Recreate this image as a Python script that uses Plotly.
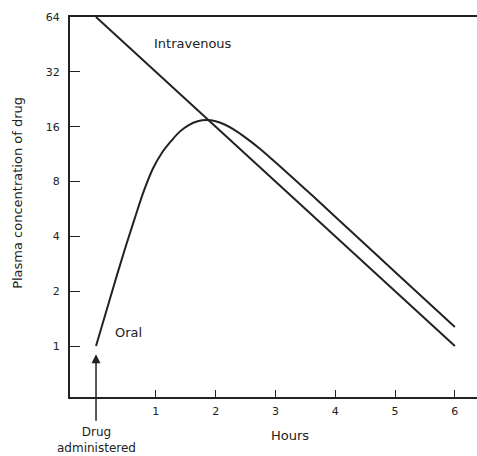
import plotly.graph_objects as go
import math

# Data
iv_hours = [0, 1, 2, 3, 4, 5, 6]
iv_conc = [64, 32, 16, 8, 4, 2, 1]

oral_hours = [0, 0.2, 0.35, 0.5, 0.65, 0.8, 0.95, 1.1, 1.25, 1.4, 1.55, 1.7, 1.85,
              2.0, 2.15, 2.3, 2.5, 2.75, 3.0, 3.5, 4.0, 5.0, 6.0]
oral_conc = [1.0, 1.67, 2.45, 3.55, 5.05, 7.1, 9.4, 11.47, 13.27, 15.03, 16.34, 17.15, 17.39,
             17.15, 16.45, 15.45, 13.93, 12.04, 10.2, 7.26, 5.13, 2.55, 1.27]

x_ticks = [1, 2, 3, 4, 5, 6]
y_ticks = [1, 2, 4, 8, 16, 32, 64]

FONT = "DejaVu Sans"
INK = "#222222"

fig = go.Figure()
fig.add_trace(go.Scatter(x=iv_hours, y=iv_conc, mode="lines",
                         line=dict(color=INK, width=2), name="Intravenous",
                         hoverinfo="skip"))
fig.add_trace(go.Scatter(x=oral_hours, y=oral_conc, mode="lines",
                         line=dict(color=INK, width=2, shape="spline", smoothing=1.0),
                         name="Oral", hoverinfo="skip"))

fig.update_layout(
    width=477, height=456,
    margin=dict(l=70, r=0, t=17, b=59),
    paper_bgcolor="white", plot_bgcolor="white",
    showlegend=False,
    font=dict(family=FONT, size=11, color=INK),
    xaxis=dict(range=[-0.435, 6.37], showline=True, linecolor=INK, linewidth=2,
               mirror=True, showgrid=False, zeroline=False,
               tickvals=x_ticks, ticktext=[str(v) for v in x_ticks],
               ticks="inside", ticklen=7, tickwidth=1, tickcolor=INK,
               ticklabelstandoff=3,
               tickfont=dict(size=11, family=FONT, color=INK)),
    yaxis=dict(type="log", range=[math.log10(0.525), math.log10(64)],
               showline=True, linecolor=INK, linewidth=2, mirror=False,
               showgrid=False, zeroline=False,
               tickvals=y_ticks, ticktext=[str(v) for v in y_ticks],
               ticks="inside", ticklen=10, tickwidth=1, tickcolor=INK,
               ticklabelstandoff=6,
               tickfont=dict(size=11, family=FONT, color=INK)),
)

ann = [
    dict(x=1.62, y=math.log10(46), xref="x", yref="y", text="Intravenous",
         showarrow=False, xanchor="center", yanchor="middle",
         font=dict(size=13, family=FONT, color=INK)),
    dict(x=0.54, y=math.log10(1.18), xref="x", yref="y", text="Oral",
         showarrow=False, xanchor="center", yanchor="middle",
         font=dict(size=13, family=FONT, color=INK)),
    dict(x=0, y=math.log10(0.9), xref="x", yref="y", text="", showarrow=True,
         ax=0, ay=68, axref="pixel", ayref="pixel",
         arrowhead=2, arrowsize=1.2, arrowwidth=1.5, arrowcolor=INK),
    dict(x=0, y=-0.071, xref="x", yref="paper", text="Drug<br>administered",
         showarrow=False, xanchor="center", yanchor="top", align="center",
         borderpad=0, font=dict(size=12, family=FONT, color=INK)),
    dict(x=3.24, y=-0.1, xref="x", yref="paper", text="Hours",
         showarrow=False, xanchor="center", yanchor="middle",
         font=dict(size=13, family=FONT, color=INK)),
    dict(x=-0.128, y=0.537, xref="paper", yref="paper", text="Plasma concentration of drug",
         showarrow=False, textangle=-90, xanchor="center", yanchor="middle",
         font=dict(size=13, family=FONT, color=INK)),
]
fig.update_layout(annotations=ann)

fig.write_html("out.html", config={"displayModeBar": False},
               post_script="document.body.style.margin='0';document.body.style.overflow='hidden';")
